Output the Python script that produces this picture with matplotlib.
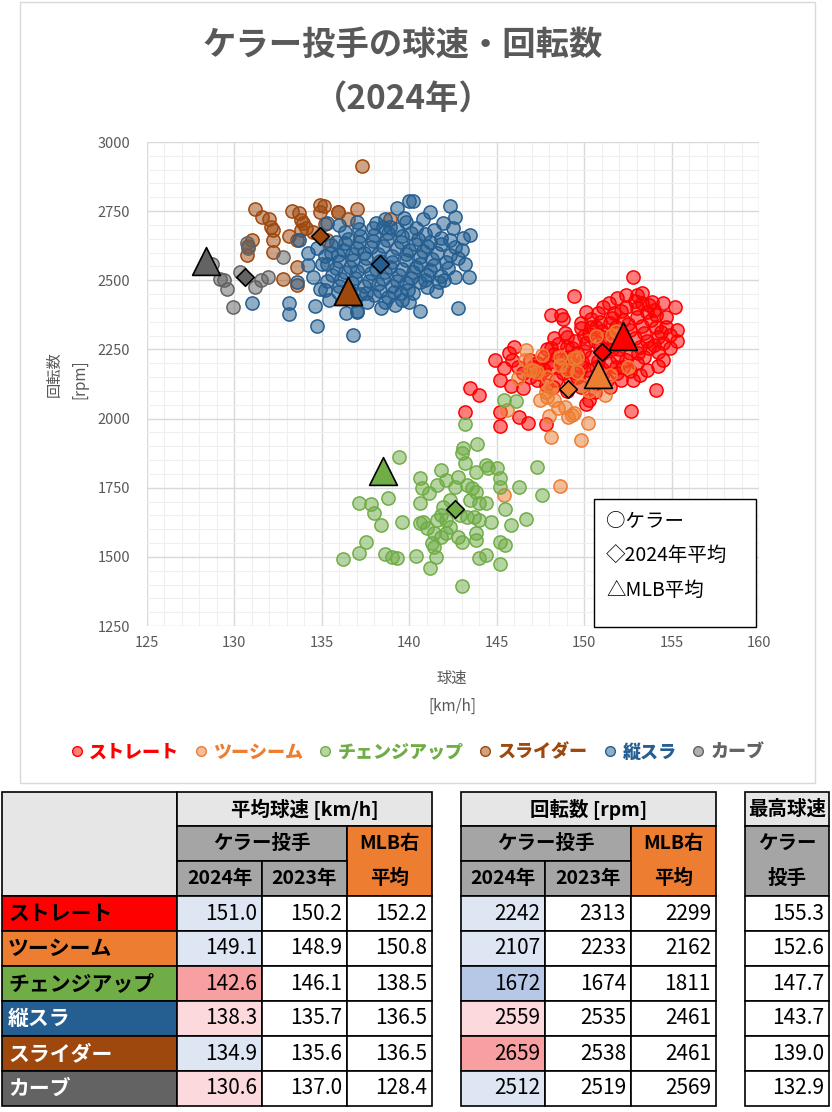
import matplotlib
matplotlib.use('Agg')
from matplotlib import pyplot as plt
from matplotlib.patches import Rectangle
from matplotlib.lines import Line2D
from matplotlib.colors import to_rgba

plt.rcParams['font.family'] = ['Noto Sans CJK JP', 'DejaVu Sans']

# 球種と色
pitches = ['ストレート', 'ツーシーム', 'チェンジアップ', '縦スラ', 'スライダー', 'カーブ']
colors = ['#FF0000', '#ED7D31', '#70AD47', '#255E91', '#9E480E', '#636363']

# 表の値
speed_2024 = [151.0, 149.1, 142.6, 138.3, 134.9, 130.6]
speed_2023 = [150.2, 148.9, 146.1, 135.7, 135.6, 137.0]
speed_mlb = [152.2, 150.8, 138.5, 136.5, 136.5, 128.4]
spin_2024 = [2242, 2107, 1672, 2559, 2659, 2512]
spin_2023 = [2313, 2233, 1674, 2535, 2538, 2519]
spin_mlb = [2299, 2162, 1811, 2461, 2461, 2569]
max_speed = [155.3, 152.6, 147.7, 143.7, 139.0, 132.9]

# 2024年セルの塗り（条件付き書式）
speed_fill = ['#DEE6F4', '#DEE6F4', '#F89FA1', '#FCD9DC', '#DEE6F4', '#FCD9DC']
spin_fill = ['#DEE6F4', '#DEE6F4', '#B6C8E6', '#FCD9DC', '#F89FA1', '#DEE6F4']
label_text = ['black', 'black', 'black', 'white', 'white', 'white']

# 個々の投球 (球速 km/h, 回転数 rpm)
straight_pts = [
    (152.8, 2511), (149.4, 2443), (148.1, 2374), (148.7, 2374), (148.8, 2359), (150.1, 2386),
    (150.8, 2383), (151.1, 2405), (151.9, 2435), (152.4, 2447), (153.0, 2447), (153.3, 2453),
    (153.9, 2423), (154.5, 2419), (155.2, 2405), (153.6, 2386), (154.1, 2374), (154.7, 2332),
    (154.9, 2302), (155.3, 2280), (154.9, 2254), (154.2, 2242), (154.5, 2212), (154.2, 2190),
    (153.6, 2176), (153.2, 2158), (152.8, 2140), (154.1, 2103), (152.7, 2029), (149.8, 2344),
    (149.8, 2326), (150.4, 2332), (149.0, 2296), (148.3, 2290), (148.1, 2254), (147.7, 2224),
    (146.0, 2260), (145.7, 2236), (145.9, 2212), (144.9, 2212), (145.4, 2184), (146.2, 2185),
    (145.2, 2140), (145.8, 2118), (146.5, 2109), (144.0, 2085), (143.5, 2109), (145.2, 2025),
    (146.3, 2007), (146.8, 1983), (145.2, 1974), (147.8, 1980), (150.1, 2053), (150.3, 2067),
    (148.2, 2115), (147.3, 2140), (149.2, 2140), (151.9, 2164), (152.1, 2140), (151.5, 2115),
    (143.2, 2023),
    (150.7, 2332), (151.5, 2344), (152.2, 2356), (153.0, 2368), (153.8, 2356), (151.1, 2296),
    (151.9, 2308), (152.6, 2320), (153.4, 2308), (154.2, 2296), (150.1, 2272), (150.9, 2260),
    (151.7, 2272), (152.4, 2272), (153.2, 2260), (154.0, 2266), (149.6, 2236), (150.4, 2224),
    (151.1, 2236), (151.9, 2224), (152.6, 2236), (153.4, 2224), (149.2, 2200), (149.8, 2188),
    (150.7, 2188), (151.5, 2200), (152.2, 2188), (153.0, 2200), (148.8, 2164), (149.6, 2152),
    (150.4, 2152), (151.1, 2164), (148.1, 2188), (148.6, 2212), (147.7, 2176), (147.3, 2200),
    (146.9, 2212), (148.4, 2140), (149.8, 2115), (150.7, 2127), (152.4, 2405), (151.7, 2380),
    (150.4, 2359), (149.0, 2260), (153.3, 2417), (154.0, 2393), (154.7, 2368), (155.3, 2320),
    (154.4, 2314), (153.7, 2254), (154.5, 2272), (147.5, 2160), (146.9, 2150), (147.9, 2250),
    (148.9, 2310), (149.5, 2280),
    (150.3, 2305), (151.0, 2318), (151.8, 2330), (152.5, 2342), (153.3, 2335), (154.1, 2330),
    (150.6, 2280), (151.4, 2290), (152.0, 2250), (152.9, 2290), (153.6, 2282), (150.0, 2245),
    (150.8, 2208), (151.6, 2250), (152.4, 2210), (153.1, 2238), (149.4, 2170), (150.2, 2175),
    (151.0, 2180), (151.8, 2185), (152.6, 2172), (148.3, 2232), (149.1, 2222), (149.9, 2205),
    (148.0, 2205), (148.8, 2185), (148.5, 2270), (149.3, 2255), (150.0, 2300), (150.9, 2350),
    (151.6, 2362), (152.1, 2390), (153.0, 2400), (153.7, 2410), (152.9, 2425), (151.4, 2418),
    (147.1, 2185), (146.5, 2165), (147.8, 2120), (149.0, 2100), (150.6, 2095), (151.3, 2140),
]
twoseam_pts = [
    (146.7, 2248), (147.6, 2230), (148.6, 2224), (148.6, 2194), (149.6, 2221), (150.7, 2299),
    (151.8, 2317), (152.5, 2185), (151.2, 2085), (148.1, 1935), (149.8, 1923), (150.2, 1983),
    (149.4, 2019), (149.1, 2007), (147.9, 2079), (147.5, 2067), (147.1, 2176), (147.3, 2170),
    (146.2, 2145), (145.6, 2031), (148.6, 1756), (145.4, 1724), (146.9, 2176), (149.4, 2218),
    (149.6, 2170), (151.5, 2158), (148.1, 2112), (147.8, 2097), (148.3, 2067), (148.5, 2037),
    (148.9, 2043), (149.3, 2013), (151.6, 2302), (149.0, 2176), (149.8, 2121), (146.6, 2210),
    (147.9, 2150), (150.3, 2100), (148.0, 2010),
]
change_pts = [
    (143.2, 1980), (143.9, 1907), (143.1, 1892), (143.0, 1874), (143.2, 1838), (143.8, 1808),
    (144.4, 1832), (144.5, 1820), (145.0, 1820), (145.2, 1784), (145.2, 1754), (147.3, 1826),
    (146.3, 1754), (147.6, 1724), (145.5, 1672), (146.7, 1636), (145.8, 1614), (145.2, 1555),
    (145.5, 1543), (144.4, 1507), (144.0, 1497), (145.2, 1474), (139.4, 1862), (140.6, 1784),
    (141.8, 1814), (142.1, 1778), (142.8, 1790), (141.6, 1760), (140.7, 1748), (141.1, 1730),
    (140.6, 1694), (137.1, 1696), (137.8, 1691), (138.0, 1657), (138.8, 1712), (138.4, 1614),
    (139.6, 1626), (137.5, 1552), (137.1, 1513), (136.2, 1491), (138.6, 1509), (139.0, 1501),
    (139.3, 1497), (140.4, 1504), (141.2, 1461), (141.5, 1501), (141.4, 1537), (141.3, 1549),
    (140.6, 1621), (140.8, 1627), (141.0, 1603), (141.4, 1585), (141.8, 1573), (142.1, 1585),
    (142.3, 1609), (141.8, 1651), (141.9, 1681), (142.3, 1706), (142.6, 1754), (143.3, 1760),
    (143.6, 1748), (143.8, 1736), (143.5, 1706), (144.0, 1694), (144.4, 1696), (144.0, 1633),
    (143.7, 1645), (143.3, 1645), (142.9, 1651), (142.8, 1573), (143.0, 1555), (143.8, 1585),
    (143.8, 1561), (144.7, 1627), (143.0, 1396), (142.1, 1633), (141.6, 1633), (145.4, 2067),
    (146.1, 2065),
]
vslider_pts = [
    (140.0, 2788), (140.2, 2788), (139.3, 2760), (139.7, 2724), (139.8, 2712), (141.2, 2748),
    (142.3, 2769), (142.6, 2730), (142.5, 2688), (141.9, 2706), (143.5, 2664), (143.0, 2610),
    (142.0, 2501), (142.6, 2513), (143.4, 2511), (142.8, 2399), (140.6, 2389), (141.0, 2477),
    (140.2, 2453), (139.5, 2453), (137.0, 2389), (136.8, 2302), (134.7, 2336), (134.6, 2407),
    (135.2, 2465), (134.5, 2513), (134.2, 2597), (134.7, 2615), (135.3, 2706), (138.1, 2706),
    (138.9, 2694), (140.4, 2688), (141.4, 2682), (141.8, 2652), (142.3, 2646), (143.1, 2652),
    (131.0, 2417), (133.1, 2417), (133.1, 2378), (133.7, 2646), (133.6, 2495), (134.2, 2555),
    (137.0, 2386),
    (135.8, 2640), (136.5, 2650), (137.2, 2660), (138.0, 2665), (138.8, 2670), (139.6, 2660),
    (140.5, 2650), (141.2, 2640), (135.5, 2600), (136.2, 2610), (137.0, 2615), (137.8, 2620),
    (138.5, 2625), (139.3, 2615), (140.0, 2610), (140.8, 2605), (141.6, 2600), (142.3, 2590),
    (135.3, 2560), (136.0, 2570), (136.8, 2575), (137.5, 2580), (138.3, 2570), (139.0, 2565),
    (139.8, 2575), (140.6, 2560), (141.4, 2555), (142.2, 2545), (135.6, 2520), (136.3, 2530),
    (137.0, 2535), (137.8, 2525), (138.6, 2530), (139.4, 2520), (140.2, 2530), (141.0, 2520),
    (141.8, 2515), (136.0, 2480), (136.7, 2490), (137.4, 2480), (138.2, 2485), (139.0, 2480),
    (139.8, 2490), (140.6, 2495), (136.4, 2440), (137.2, 2450), (138.0, 2445), (138.8, 2440),
    (139.6, 2430), (137.6, 2420), (136.0, 2700), (137.0, 2710), (138.6, 2720), (140.8, 2720),
    (135.0, 2560), (134.9, 2470), (142.8, 2580), (143.2, 2560), (141.5, 2460), (140.0, 2420),
    (138.4, 2400), (136.4, 2380),
    (135.9, 2458), (136.6, 2463), (137.5, 2455), (138.3, 2462), (139.1, 2457), (139.9, 2466),
    (135.3, 2498), (136.1, 2503), (136.9, 2508), (137.7, 2497), (138.5, 2505), (139.3, 2499),
    (140.1, 2508), (140.9, 2502), (141.7, 2492), (135.8, 2543), (136.6, 2548), (137.4, 2552),
    (138.1, 2541), (138.9, 2549), (139.6, 2540), (140.4, 2547), (141.2, 2537), (135.2, 2588),
    (135.9, 2592), (136.7, 2596), (137.4, 2600), (138.2, 2594), (139.0, 2589), (139.8, 2596),
    (140.6, 2585), (141.3, 2578), (135.5, 2628), (136.3, 2634), (137.1, 2638), (137.9, 2643),
    (138.7, 2647), (139.5, 2637), (140.3, 2631), (141.0, 2624), (141.8, 2630), (136.3, 2676),
    (137.1, 2684), (137.9, 2690), (138.5, 2692), (139.3, 2684), (140.1, 2672), (140.9, 2668),
    (136.9, 2428), (138.6, 2420), (139.2, 2412), (135.4, 2430), (142.6, 2620), (142.1, 2565),
]
slider_pts = [
    (137.3, 2913), (131.2, 2757), (131.6, 2728), (132.0, 2722), (132.1, 2694), (132.2, 2682),
    (132.2, 2646), (132.2, 2603), (131.0, 2646), (130.8, 2624), (130.7, 2590), (133.3, 2751),
    (133.7, 2745), (133.8, 2718), (133.9, 2706), (134.1, 2688), (133.1, 2661), (133.6, 2646),
    (133.6, 2549), (132.8, 2503), (133.6, 2483), (134.9, 2772), (135.1, 2770), (134.9, 2747),
    (135.9, 2748), (136.5, 2722), (137.0, 2757), (138.9, 2722), (135.2, 2704), (134.5, 2676),
    (135.3, 2646), (133.8, 2682), (135.9, 2746),
]
curve_pts = [
    (128.7, 2560), (129.2, 2503), (129.4, 2501), (129.6, 2467), (129.9, 2405), (130.3, 2531),
    (130.7, 2634), (130.8, 2616), (131.2, 2477), (131.5, 2501), (131.9, 2513), (132.8, 2583),
]
pitch_pts = [straight_pts, twoseam_pts, change_pts, vslider_pts, slider_pts, curve_pts]

W, H = 832, 1112
fig = plt.figure(figsize=(W / 100, H / 100), dpi=100)
ax = fig.add_axes([147 / W, 1 - 626 / H, 612 / W, 484 / H])

# 散布図（凡例の順に描く）
legend_order = [0, 1, 2, 4, 3, 5]
for i in legend_order:
    xs = [p[0] for p in pitch_pts[i]]
    ys = [p[1] for p in pitch_pts[i]]
    ax.scatter(xs, ys, s=90, facecolor=to_rgba(colors[i], 0.5),
               edgecolor=colors[i], linewidth=1.1, zorder=3)
for i in legend_order:
    ax.scatter(speed_2024[i], spin_2024[i], marker='D', s=80, facecolor=colors[i],
               edgecolor='black', linewidth=1.2, zorder=4)
for i in range(6):
    ax.scatter(speed_mlb[i], spin_mlb[i], marker='^', s=400, facecolor=colors[i],
               edgecolor='black', linewidth=1.2, zorder=5)

# 軸の書式
ax.set_xlim(125, 160)
ax.set_ylim(1250, 3000)
ax.set_xticks(range(125, 161, 5))
ax.set_yticks(range(1250, 3001, 250))
ax.set_xticks(range(125, 161), minor=True)
ax.set_yticks(range(1250, 3001, 50), minor=True)
ax.grid(which='major', color='#D9D9D9', linewidth=1)
ax.grid(which='minor', color='#EFEFEF', linewidth=0.8)
ax.set_axisbelow(True)
for s in ax.spines.values():
    s.set_visible(False)
ax.tick_params(which='both', length=0, labelsize=10.5, labelcolor='#595959')
ax.tick_params(axis='y', pad=12)
ax.tick_params(axis='x', pad=7)

# 図全体のピクセル座標で描く層
ov = fig.add_axes([0, 0, 1, 1])
ov.set_xlim(0, W)
ov.set_ylim(H, 0)
ov.axis('off')

ov.add_patch(Rectangle((20, 2), 795, 781, fill=False, edgecolor='#D9D9D9', linewidth=1))
ov.text(403, 45, 'ケラー投手の球速・回転数', ha='center', va='center',
        fontsize=24, weight='bold', color='#595959')
ov.text(403, 100, '（2024年）', ha='center', va='center',
        fontsize=24, weight='bold', color='#595959')
ov.text(452, 678, '球速', ha='center', va='center', fontsize=11, color='#595959')
ov.text(452, 706, '[km/h]', ha='center', va='center', fontsize=11, color='#595959')
ov.text(54, 374, '回転数', ha='center', va='center', rotation=90, fontsize=11, color='#595959')
ov.text(80, 379, '[rpm]', ha='center', va='center', rotation=90, fontsize=11, color='#595959')

# 図中の説明枠
ov.add_patch(Rectangle((594, 499), 162, 128, facecolor='white', edgecolor='black', linewidth=1))
for y, t in zip([521, 555, 590], ['○ケラー', '◇2024年平均', '△MLB平均']):
    ov.text(606, y, t, ha='left', va='center', fontsize=14, color='black')

# 下の凡例
handles = [Line2D([], [], marker='o', linestyle='', markersize=7,
                  markerfacecolor=to_rgba(colors[i], 0.5), markeredgecolor=colors[i])
           for i in legend_order]
fig.legend(handles, [pitches[i] for i in legend_order], loc='center',
           bbox_to_anchor=(417 / W, 1 - 752 / H), ncol=6, frameon=False,
           handlelength=0.8, handletextpad=0.3, columnspacing=0.8,
           prop={'weight': 'heavy', 'size': 13},
           labelcolor=[colors[i] for i in legend_order])


# 表
def cell(x0, y0, x1, y1, text='', face='white', color='black', weight='normal',
         ha='center', size=14):
    ov.add_patch(Rectangle((x0, y0), x1 - x0, y1 - y0, facecolor=face,
                           edgecolor='black', linewidth=1.2))
    if text:
        tx = {'center': (x0 + x1) / 2, 'right': x1 - 5, 'left': x0 + 6}[ha]
        ov.text(tx, (y0 + y1) / 2, text, ha=ha, va='center', color=color,
                fontsize=size, weight=weight)


rows = [792, 826, 861, 896, 931, 966, 1001, 1036, 1071, 1106]
t1 = [2, 177, 262, 347, 432]
t2 = [461, 545, 631, 716]
t3 = [745, 829]


def header(cols, title):
    cell(cols[0], rows[0], cols[-1], rows[1], title, '#E7E6E6', weight='bold')
    cell(cols[0], rows[1], cols[2], rows[2], 'ケラー投手', '#A5A5A5', weight='bold')
    cell(cols[2], rows[1], cols[3], rows[3], '', '#ED7D31')
    ov.text((cols[2] + cols[3]) / 2, (rows[1] + rows[2]) / 2, 'MLB右', ha='center',
            va='center', fontsize=14, weight='bold')
    ov.text((cols[2] + cols[3]) / 2, (rows[2] + rows[3]) / 2, '平均', ha='center',
            va='center', fontsize=14, weight='bold')
    cell(cols[0], rows[2], cols[1], rows[3], '2024年', '#A5A5A5', weight='bold')
    cell(cols[1], rows[2], cols[2], rows[3], '2023年', '#A5A5A5', weight='bold')


cell(t1[0], rows[0], t1[1], rows[3], '', '#E7E6E6')
header(t1[1:], '平均球速 [km/h]')
header(t2, '回転数 [rpm]')
cell(t3[0], rows[0], t3[1], rows[1], '最高球速', '#E7E6E6', weight='bold')
cell(t3[0], rows[1], t3[1], rows[3], '', '#A5A5A5')
ov.text((t3[0] + t3[1]) / 2, (rows[1] + rows[2]) / 2, 'ケラー', ha='center', va='center',
        fontsize=14, weight='bold')
ov.text((t3[0] + t3[1]) / 2, (rows[2] + rows[3]) / 2, '投手', ha='center', va='center',
        fontsize=14, weight='bold')

for i, name in enumerate(pitches):
    y0, y1 = rows[3 + i], rows[4 + i]
    cell(t1[0], y0, t1[1], y1, name, colors[i], label_text[i], 'bold', 'left', 15)
    cell(t1[1], y0, t1[2], y1, f'{speed_2024[i]:.1f}', speed_fill[i], ha='right', size=15)
    cell(t1[2], y0, t1[3], y1, f'{speed_2023[i]:.1f}', ha='right', size=15)
    cell(t1[3], y0, t1[4], y1, f'{speed_mlb[i]:.1f}', ha='right', size=15)
    cell(t2[0], y0, t2[1], y1, f'{spin_2024[i]}', spin_fill[i], ha='right', size=15)
    cell(t2[1], y0, t2[2], y1, f'{spin_2023[i]}', ha='right', size=15)
    cell(t2[2], y0, t2[3], y1, f'{spin_mlb[i]}', ha='right', size=15)
    cell(t3[0], y0, t3[1], y1, f'{max_speed[i]:.1f}', ha='right', size=15)

plt.savefig('out.png', dpi=100)
